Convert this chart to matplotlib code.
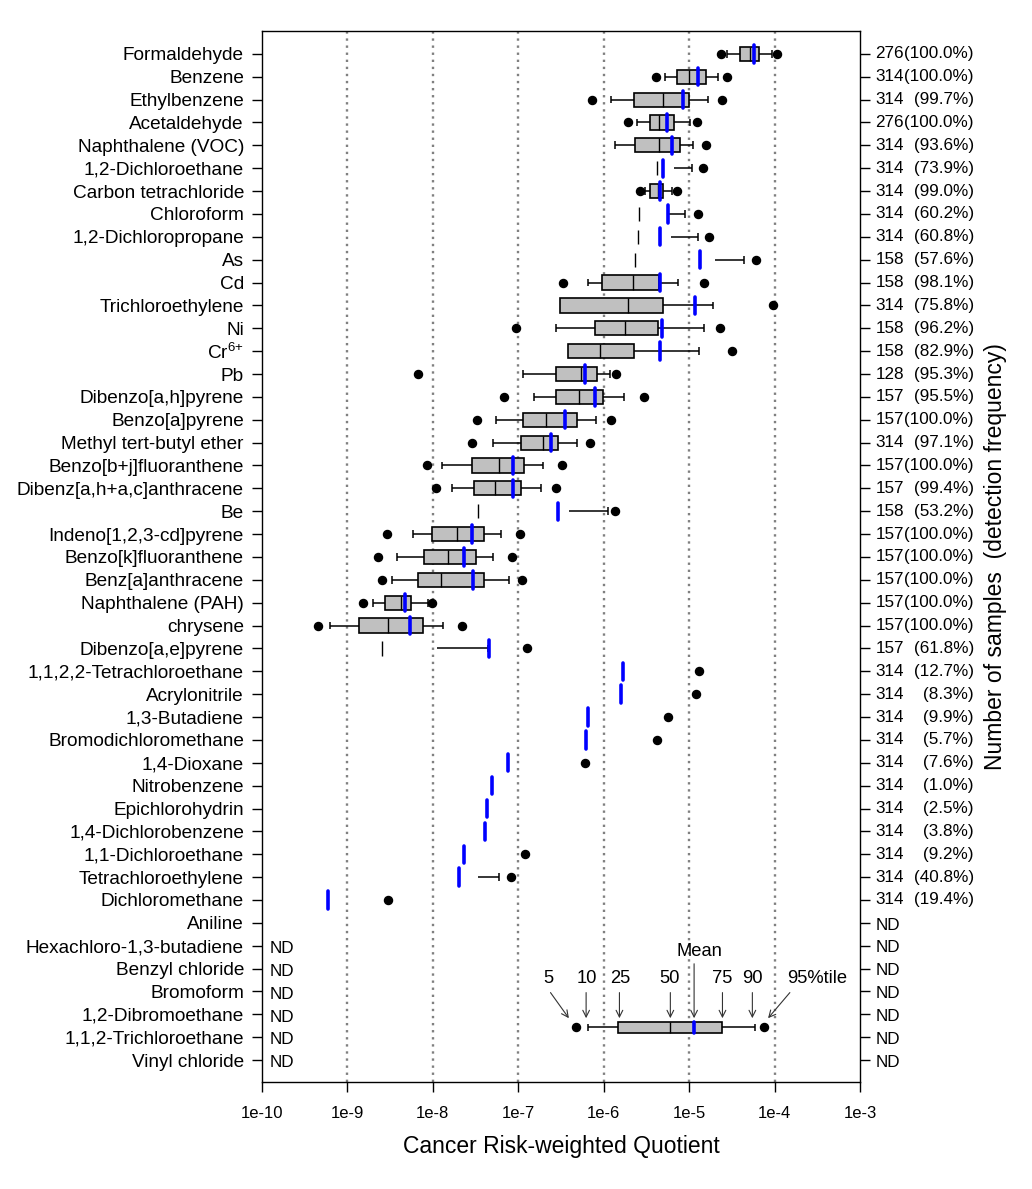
import numpy as np
import matplotlib
matplotlib.use('Agg')
import matplotlib.pyplot as plt
from matplotlib import transforms
from matplotlib.ticker import NullLocator

plt.rcParams['font.family'] = ['Liberation Sans', 'DejaVu Sans']
plt.rcParams['mathtext.default'] = 'regular'

nan = np.nan

compounds = [
    'Formaldehyde', 'Benzene', 'Ethylbenzene', 'Acetaldehyde', 'Naphthalene (VOC)',
    '1,2-Dichloroethane', 'Carbon tetrachloride', 'Chloroform', '1,2-Dichloropropane', 'As',
    'Cd', 'Trichloroethylene', 'Ni', 'Cr$^{6{+}}$', 'Pb',
    'Dibenzo[a,h]pyrene', 'Benzo[a]pyrene', 'Methyl tert-butyl ether', 'Benzo[b+j]fluoranthene',
    'Dibenz[a,h+a,c]anthracene', 'Be', 'Indeno[1,2,3-cd]pyrene', 'Benzo[k]fluoranthene',
    'Benz[a]anthracene', 'Naphthalene (PAH)', 'chrysene', 'Dibenzo[a,e]pyrene',
    '1,1,2,2-Tetrachloroethane', 'Acrylonitrile', '1,3-Butadiene', 'Bromodichloromethane',
    '1,4-Dioxane', 'Nitrobenzene', 'Epichlorohydrin', '1,4-Dichlorobenzene',
    '1,1-Dichloroethane', 'Tetrachloroethylene', 'Dichloromethane', 'Aniline',
    'Hexachloro-1,3-butadiene', 'Benzyl chloride', 'Bromoform', '1,2-Dibromoethane',
    '1,1,2-Trichloroethane', 'Vinyl chloride',
]

# percentiles of the risk quotient (nan = below detection / not drawn)
p5 = [2.33e-5, 4.1e-6, 7.2e-7, 1.95e-6, nan, nan, 2.69e-6, nan, nan, nan,
      3.31e-7, nan, 9.4e-8, nan, 6.7e-9, 6.8e-8, 3.28e-8, 2.84e-8, 8.6e-9, 1.09e-8,
      nan, 2.92e-9, 2.31e-9, 2.54e-9, 1.51e-9, 4.47e-10, nan] + [nan] * 18
p10 = [2.8e-5, 5.2e-6, 1.22e-6, 2.43e-6, 1.34e-6, nan, 3.05e-6, nan, nan, nan,
       6.5e-7, nan, 2.78e-7, nan, 1.13e-7, 1.53e-7, 5.5e-8, 5.06e-8, 1.28e-8, 1.67e-8,
       nan, 5.85e-9, 3.79e-9, 3.31e-9, 2.0e-9, 6.3e-10, nan] + [nan] * 18
q1 = [3.9e-5, 7.3e-6, 2.26e-6, 3.49e-6, 2.33e-6, nan, 3.49e-6, nan, nan, nan,
      9.5e-7, 3.08e-7, 7.9e-7, 3.83e-7, 2.78e-7, 2.78e-7, 1.13e-7, 1.07e-7, 2.86e-8, 3.02e-8,
      nan, 9.7e-9, 7.9e-9, 6.7e-9, 2.75e-9, 1.36e-9, nan] + [nan] * 18
median = [5.1e-5, 1.0e-5, 5.0e-6, 4.38e-6, 4.38e-6, 4.2e-6, 4.28e-6, 2.59e-6, 2.54e-6, 2.33e-6,
          2.21e-6, 1.94e-6, 1.78e-6, 9.1e-7, 5.43e-7, 5.16e-7, 2.10e-7, 1.95e-7, 5.97e-8, 5.32e-8,
          3.35e-8, 1.92e-8, 1.51e-8, 1.24e-8, 4.25e-9, 2.98e-9, 2.54e-9] + [nan] * 18
mean = [5.7e-5, 1.27e-5, 8.4e-6, 5.55e-6, 6.28e-6, 5.0e-6, 4.52e-6, 5.61e-6, 4.61e-6, 1.35e-5,
        4.52e-6, 1.18e-5, 4.85e-6, 4.52e-6, 6.0e-7, 7.96e-7, 3.57e-7, 2.43e-7, 8.75e-8, 8.75e-8,
        2.90e-7, 2.86e-8, 2.29e-8, 2.92e-8, 4.75e-9, 5.43e-9, 4.52e-8,
        1.66e-6, 1.61e-6, 6.6e-7, 6.28e-7, 7.6e-8, 4.95e-8, 4.25e-8, 4.03e-8,
        2.29e-8, 2.04e-8, 5.9e-10] + [nan] * 7
q3 = [6.6e-5, 1.59e-5, 1.0e-5, 6.68e-6, 7.73e-6, 6.6e-6, 4.95e-6, 5.7e-6, 6.1e-6, 2.0e-5,
      4.38e-6, 4.95e-6, 4.34e-6, 2.26e-6, 8.4e-7, 9.8e-7, 4.85e-7, 2.90e-7, 1.17e-7, 1.07e-7,
      3.91e-7, 3.95e-8, 3.18e-8, 3.95e-8, 5.5e-9, 7.63e-9, 1.13e-8,
      nan, nan, nan, nan, nan, nan, nan, nan, nan, 3.42e-8] + [nan] * 8
p90 = [9.4e-5, 2.17e-5, 1.66e-5, 1.03e-5, 1.11e-5, 1.09e-5, 6.28e-6, 8.93e-6, 1.28e-5, 4.34e-5,
       7.41e-6, 1.90e-5, 1.50e-5, 1.31e-5, 1.18e-6, 1.73e-6, 8.1e-7, 4.85e-7, 1.94e-7, 1.84e-7,
       1.12e-6, 6.2e-8, 5.06e-8, 7.7e-8, 8.75e-9, 1.31e-8, 4.4e-8,
       nan, nan, nan, nan, nan, nan, nan, nan, nan, 5.9e-8] + [nan] * 8
p95 = [1.07e-4, 2.8e-5, 2.43e-5, 1.22e-5, 1.56e-5, 1.44e-5, 7.26e-6, 1.28e-5, 1.70e-5, 6.1e-5,
       1.48e-5, 9.6e-5, 2.31e-5, 3.21e-5, 1.38e-6, 2.96e-6, 1.22e-6, 6.9e-7, 3.21e-7, 2.78e-7,
       1.35e-6, 1.04e-7, 8.5e-8, 1.10e-7, 9.9e-9, 2.17e-8, 1.28e-7,
       1.31e-5, 1.21e-5, 5.73e-6, 4.2e-6, 6.0e-7, nan, nan, nan,
       1.21e-7, 8.2e-8, 2.96e-9] + [nan] * 7

n_samples = [276, 314, 314, 276, 314, 314, 314, 314, 314, 158,
             158, 314, 158, 158, 128, 157, 157, 314, 157, 157,
             158, 157, 157, 157, 157, 157, 157] + [314] * 11
det_freq = [100.0, 100.0, 99.7, 100.0, 93.6, 73.9, 99.0, 60.2, 60.8, 57.6,
            98.1, 75.8, 96.2, 82.9, 95.3, 95.5, 100.0, 97.1, 100.0, 99.4,
            53.2, 100.0, 100.0, 100.0, 100.0, 100.0, 61.8, 12.7, 8.3, 9.9,
            5.7, 7.6, 1.0, 2.5, 3.8, 9.2, 40.8, 19.4]
nd_inside = ['Hexachloro-1,3-butadiene', 'Benzyl chloride', 'Bromoform',
             '1,2-Dibromoethane', '1,1,2-Trichloroethane', 'Vinyl chloride']

# example box used as a key
key_stats = [4.75e-7, 6.5e-7, 1.48e-6, 5.97e-6, 1.14e-5, 2.45e-5, 5.85e-5, 7.57e-5]
key_labels = ['5', '10', '25', '50', 'Mean', '75', '90', '95%tile']

xticks = [1e-10, 1e-9, 1e-8, 1e-7, 1e-6, 1e-5, 1e-4, 1e-3]
xtick_labels = ['1e-10', '1e-9', '1e-8', '1e-7', '1e-6', '1e-5', '1e-4', '1e-3']


def draw_boxes(ax, y, s5, s10, s25, s50, smean, s75, s90, s95, box_h, mean_h, cap_h):
    y = np.asarray(y, dtype=float)
    s5, s10, s25, s50, smean, s75, s90, s95 = [np.asarray(a, dtype=float) for a in
                                               (s5, s10, s25, s50, smean, s75, s90, s95)]
    ok = lambda a: ~np.isnan(a)

    lo = ok(s10) & ok(s25)
    ax.hlines(y[lo], s10[lo], s25[lo], color='black', lw=1.1, zorder=2)
    ax.vlines(s10[lo], y[lo] - cap_h, y[lo] + cap_h, color='black', lw=1.1, zorder=2)
    hi = ok(s75) & ok(s90)
    ax.hlines(y[hi], s75[hi], s90[hi], color='black', lw=1.1, zorder=2)
    ax.vlines(s90[hi], y[hi] - cap_h, y[hi] + cap_h, color='black', lw=1.1, zorder=2)

    box = ok(s25) & ok(s75)
    ax.barh(y[box], (s75 - s25)[box], left=s25[box], height=2 * box_h,
            color='#C0C0C0', edgecolor='black', linewidth=1.2, zorder=3)
    md = ok(s50)
    ax.vlines(s50[md], y[md] - box_h, y[md] + box_h, color='black', lw=1.0, zorder=4)

    ax.plot(s5, y, 'o', color='black', ms=5.8, zorder=4)
    ax.plot(s95, y, 'o', color='black', ms=5.8, zorder=4)

    mn = ok(smean)
    lc = ax.vlines(smean[mn], y[mn] - mean_h, y[mn] + mean_h, color='#0000FF', lw=2.6, zorder=5)
    lc.set_capstyle('round')


fig = plt.figure(figsize=(10.32, 11.89), dpi=100)
ax = fig.add_axes([262 / 1032, 1 - 1082 / 1189, 598 / 1032, 1051 / 1189])

rows = np.arange(len(compounds))
draw_boxes(ax, rows, p5, p10, q1, median, mean, q3, p90, p95, 0.31, 0.38, 0.17)

ax.set_xscale('log')
ax.set_xlim(1e-10, 1e-3)
ax.set_ylim(44.96, -1.0)
ax.set_xticks(xticks)
ax.set_xticklabels(xtick_labels)
ax.xaxis.set_minor_locator(NullLocator())
ax.set_yticks(rows)
ax.set_yticklabels(compounds)
ax.tick_params(axis='y', labelsize=13.7, length=7, width=1, pad=6, right=True)
ax.tick_params(axis='x', labelsize=12, length=7, width=1, pad=10)
for sp in ax.spines.values():
    sp.set_linewidth(1.0)

for x in xticks[1:-1]:
    ax.axvline(x, color='#808080', lw=1.7, linestyle=(0, (1, 2.0)), zorder=1)

# right hand labels: number of samples (detection frequency)
trans = transforms.blended_transform_factory(ax.transAxes, ax.transData)
for i in rows:
    if i < len(det_freq):
        ax.text(1.026, i, str(n_samples[i]), transform=trans, ha='left', va='center',
                fontsize=12.3, clip_on=False)
        ax.text(1.1906, i, '(%.1f%%)' % det_freq[i], transform=trans, ha='right',
                va='center', fontsize=12.3, clip_on=False)
    else:
        ax.text(1.026, i + 0.1, 'ND', transform=trans, ha='left', va='center',
                fontsize=12.3, clip_on=False)
    if compounds[i] in nd_inside:
        ax.text(0.0134, i + 0.12, 'ND', transform=trans, ha='left', va='center',
                fontsize=12.3)

ax.text(1.2274, 0.5, 'Number of samples  (detection frequency)', transform=ax.transAxes,
        rotation=90, ha='center', va='center', fontsize=16.5)
fig.text(561 / 1032, 1 - 1147 / 1189, 'Cancer Risk-weighted Quotient',
         ha='center', va='center', fontsize=16.5)

# key box
ky = 42.57
draw_boxes(ax, [ky], *[[v] for v in key_stats], 0.24, 0.24, 0.16)
label_x = [10 ** v for v in (-6.646, -6.197, -5.803, -5.224, -4.883, -4.619, -4.256, -3.507)]
arrow_x = [10 ** v for v in (-6.408, -6.206, -5.816, -5.220, -4.942, -4.610, -4.260, -4.076)]
arrow_from = [10 ** -6.623, None, None, None, None, None, None, 10 ** -3.821]
for lab, lx, axx, fx in zip(key_labels, label_x, arrow_x, arrow_from):
    is_mean = lab == 'Mean'
    ty = 39.26 if is_mean else 40.43
    ax.text(lx, ty, lab, ha='center', va='center', fontsize=13.2)
    start = (fx if fx is not None else axx, 39.79 if is_mean else 41.05)
    end = (axx, 42.17)
    ax.annotate('', xy=end, xytext=start,
                arrowprops=dict(arrowstyle='->', color='#333333', lw=0.8,
                                shrinkA=0, shrinkB=0, mutation_scale=12))

fig.savefig('out.png', dpi=100)
